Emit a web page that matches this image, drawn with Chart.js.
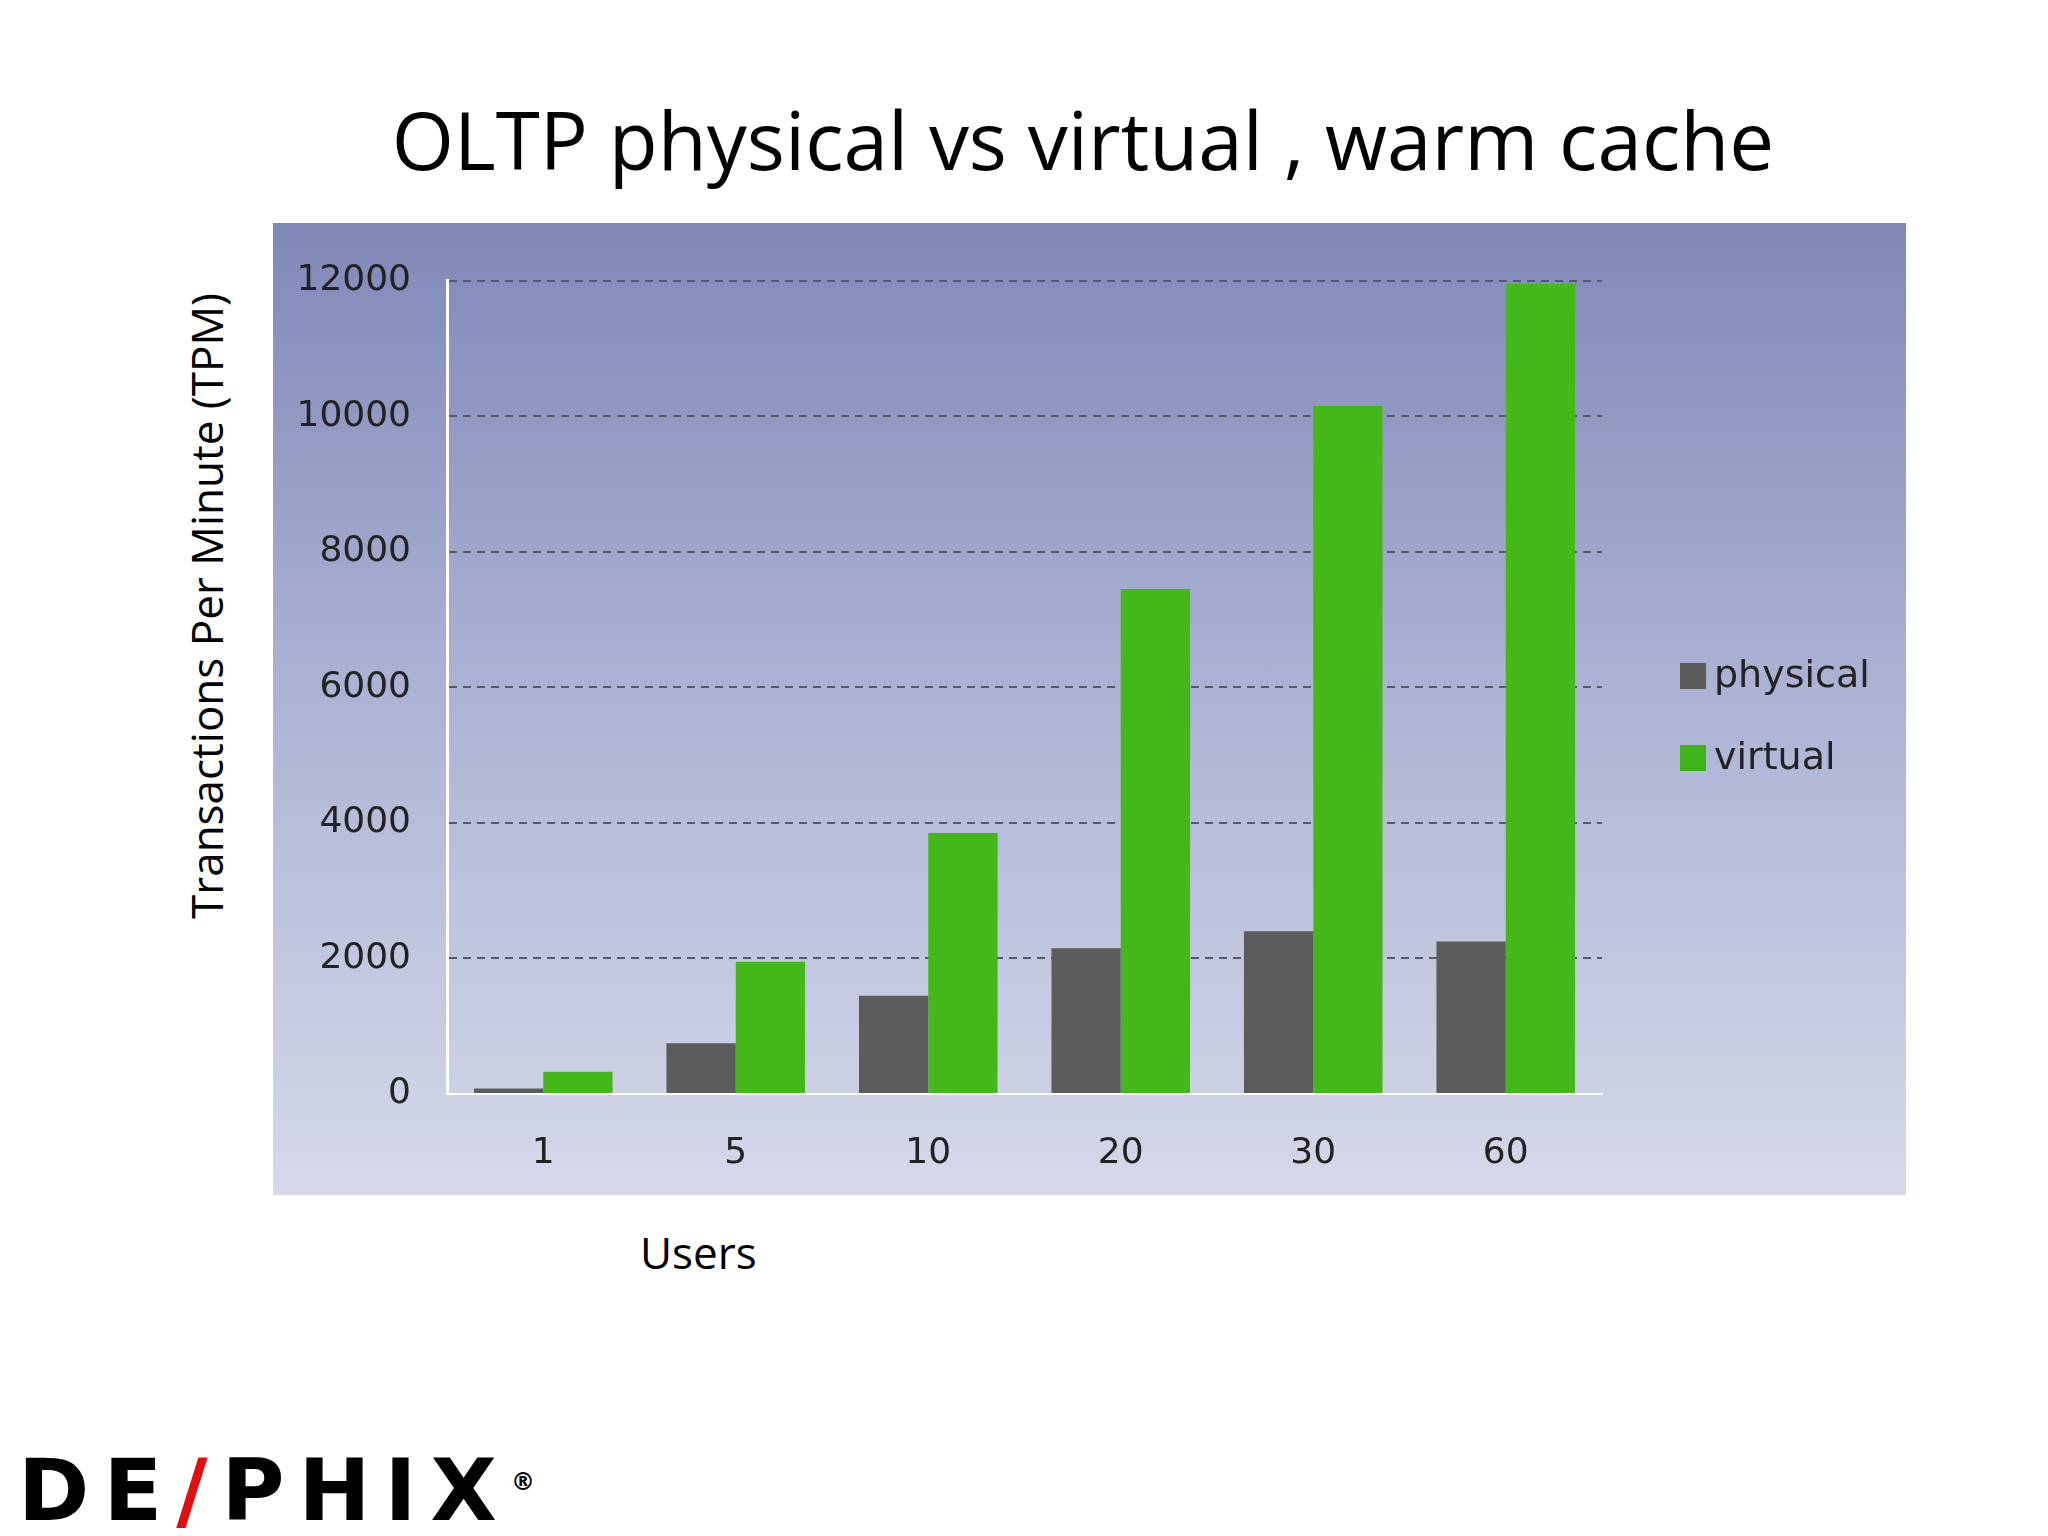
<!DOCTYPE html>
<html>
<head>
<meta charset="utf-8">
<script src="https://cdn.jsdelivr.net/npm/chart.js@4"></script>
<style>
  body { margin: 0; width: 2048px; height: 1536px; background: #fff; position: relative; font-family: "Open Sans", sans-serif; overflow: hidden; }
  #title { position: absolute; left: 0; width: 2166px; top: 84px; text-align: center; font-size: 80px; color: #000; }
  #box { position: absolute; left: 273px; top: 223px; width: 1633px; height: 972px;
         background: linear-gradient(#7f88b8, #a9b0d2 45%, #d6d9ea); }
  #ytitle { position: absolute; left: 206px; top: 606px; transform: translate(-50%, -50%) rotate(-90deg); font-size: 44px; white-space: nowrap; }
  #xtitle { position: absolute; left: 640px; top: 1222px; font-size: 44px; }
  .leg { position: absolute; left: 1680px; font-family: "DejaVu Sans", sans-serif; font-size: 38px; color: #222; }
  .leg span { display: inline-block; width: 26px; height: 26px; margin-right: 8px; vertical-align: -2px; }
  #logo { position: absolute; left: 18px; top: 1440px; font-family: "DejaVu Sans"; font-weight: bold; font-size: 86px; letter-spacing: 14px; }
</style>
</head>
<body>
<div id="title">OLTP physical vs virtual , warm cache</div>
<div id="box"><canvas id="chart"></canvas></div>
<div class="leg" style="top:652px"><span style="background:#5a5a5a"></span>physical</div>
<div class="leg" style="top:734px"><span style="background:#3fb41a"></span>virtual</div>
<div id="ytitle">Transactions Per Minute (TPM)</div>
<div id="xtitle">Users</div>
<div id="logo">DE<span style="color:#e01010">/</span>PHIX<sup style="font-size:24px">®</sup></div>
<script>
const users = ["1", "5", "10", "20", "30", "60"];
const physical = [80, 750, 1450, 2150, 2400, 2250];
const virtualTpm = [330, 1950, 3850, 7450, 10150, 11950];
const yTicks = [0, 2000, 4000, 6000, 8000, 10000, 12000];

const canvas = document.getElementById("chart");
canvas.width = 1633;
canvas.height = 972;

new Chart(canvas, {
  type: "bar",
  data: {
    labels: users,
    datasets: [
      { label: "physical", data: physical, backgroundColor: "#5c5c5c" },
      { label: "virtual", data: virtualTpm, backgroundColor: "#44b81b" },
    ],
  },
  options: {
    responsive: false,
    animation: false,
    layout: { padding: { top: 41, right: 304, left: 0, bottom: 0 } },
    plugins: { legend: { display: false }, tooltip: { enabled: false } },
    datasets: { bar: { barPercentage: 1, categoryPercentage: 0.72 } },
    scales: {
      x: {
        grid: { display: false },
        border: { color: "#ffffff", width: 2 },
        ticks: { color: "#222", font: { family: "DejaVu Sans", size: 36 }, padding: 30 },
        afterFit: (s) => { s.height = 101; },
      },
      y: {
        min: 0,
        max: 12000,
        afterBuildTicks: (s) => { s.ticks = yTicks.map((v) => ({ value: v })); },
        grid: { color: "#555a66", lineWidth: 2, drawTicks: false },
        border: { color: "#ffffff", width: 3, dash: [8, 6] },
        ticks: { color: "#222", font: { family: "DejaVu Sans", size: 36 }, padding: 36, callback: (v) => String(v) },
        afterFit: (s) => { s.width = 174; },
      },
    },
  },
});
</script>
</body>
</html>
